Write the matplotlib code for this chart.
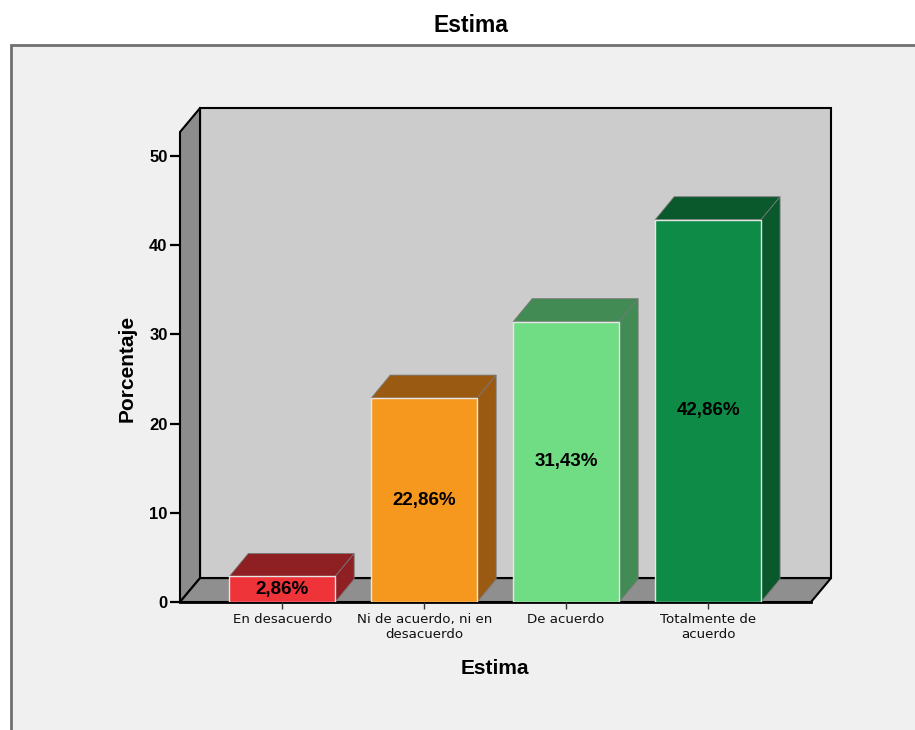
import numpy as np
import matplotlib
matplotlib.use('Agg')
import matplotlib.pyplot as plt
from matplotlib.patches import Polygon, Rectangle

plt.rcParams['font.family'] = ['Liberation Sans', 'DejaVu Sans']

# data
categorias = ['En desacuerdo', 'Ni de acuerdo, ni en\ndesacuerdo', 'De acuerdo', 'Totalmente de\nacuerdo']
porcentajes = [2.86, 22.86, 31.43, 42.86]
etiquetas = ['2,86%', '22,86%', '31,43%', '42,86%']
yticks = [0, 10, 20, 30, 40, 50]

col_front = ['#EE3339', '#F7981E', '#70DC84', '#0F8B48']
col_dark = ['#8E1F23', '#9A5A11', '#428B54', '#0A592C']

fig = plt.figure(figsize=(9.15, 7.3), dpi=100, facecolor='white')

# grey panel behind the chart
panel = Rectangle((10.5 / 915, -0.02), 1.0, (730 - 45) / 730 + 0.02, transform=fig.transFigure,
                  facecolor='#F0F0F0', edgecolor='#707070', lw=2, zorder=-1)
fig.patches.append(panel)

ax = fig.add_axes([180 / 915, 128 / 730, 631 / 915, 470 / 730])
ax.set_facecolor('none')
x0, x1 = -0.72, 3.725
ytop = 52.7
ax.set_xlim(x0, x1)
ax.set_ylim(0, ytop)
for s in ax.spines.values():
    s.set_visible(False)

dx, dy = 0.141, 2.68   # depth of the 3d box
bdx, bdy = 0.134, 2.58  # depth of the bars

# walls
back = Polygon([(x0 + dx, dy), (x1 + dx, dy), (x1 + dx, ytop + dy), (x0 + dx, ytop + dy)],
               closed=True, facecolor='#CCCCCC', edgecolor='black', lw=1.5, clip_on=False, zorder=1)
left = Polygon([(x0, 0), (x0 + dx, dy), (x0 + dx, ytop + dy), (x0, ytop)],
               closed=True, facecolor='#8C8C8C', edgecolor='black', lw=1.5, clip_on=False, zorder=1.1)
floor = Polygon([(x0, 0), (x1, 0), (x1 + dx, dy), (x0 + dx, dy)],
                closed=True, facecolor='#8F8F8F', edgecolor='black', lw=1.5, clip_on=False, zorder=1.1)
for p in (back, left, floor):
    ax.add_patch(p)
ax.plot([x0, x1], [0, 0], color='black', lw=2, clip_on=False, zorder=1.2)

# bars
x = np.arange(len(categorias))
w = 0.746
ax.bar(x, porcentajes, width=w, color=col_front, edgecolor='#E6E6E6', lw=1, zorder=3)
for i, v in enumerate(porcentajes):
    xl, xr = x[i] - w / 2, x[i] + w / 2
    top = Polygon([(xl, v), (xr, v), (xr + bdx, v + bdy), (xl + bdx, v + bdy)], closed=True,
                  facecolor=col_dark[i], edgecolor='#777777', lw=0.6, clip_on=False, zorder=2.5)
    side = Polygon([(xr, 0), (xr + bdx, bdy), (xr + bdx, v + bdy), (xr, v)], closed=True,
                   facecolor=col_dark[i], edgecolor='#777777', lw=0.6, clip_on=False, zorder=2.5)
    ax.add_patch(top)
    ax.add_patch(side)
    ax.text(x[i], v / 2, etiquetas[i], ha='center', va='center', fontsize=13.5,
            fontweight='bold', color='black', zorder=4)

ax.set_yticks(yticks)
ax.set_yticklabels([str(t) for t in yticks], fontweight='bold', fontsize=12)
ax.tick_params(axis='y', direction='out', length=7, width=1.6, color='black', pad=2)
ax.set_xticks(x)
ax.set_xticklabels(categorias, fontsize=9.6, family='DejaVu Sans', linespacing=1.2, color='#111111')
ax.tick_params(axis='x', direction='out', length=5, width=1, color='#333333', pad=3)

fig.text(471 / 915, (730 - 26) / 730, 'Estima', ha='center', va='center', fontsize=16.5, fontweight='bold')
fig.text(495 / 915, (730 - 668) / 730, 'Estima', ha='center', va='center', fontsize=15, fontweight='bold')
fig.text(127 / 915, (730 - 368) / 730, 'Porcentaje', ha='center', va='center', rotation=90,
         fontsize=15, fontweight='bold')

fig.savefig('out.png', dpi=100, facecolor='white')
